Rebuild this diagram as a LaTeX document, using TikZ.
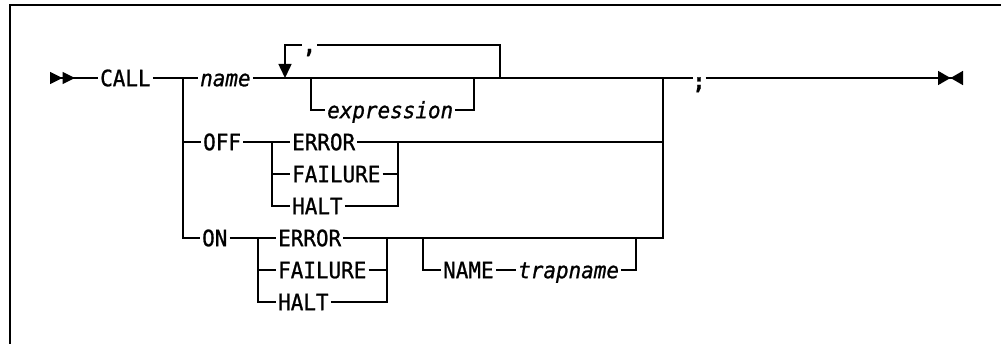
\documentclass[tikz,border=0pt]{standalone}
\usepackage{fontspec}
\setmonofont[FakeStretch=0.93,FakeBold=1]{DejaVu Sans Mono}
\usetikzlibrary{arrows.meta,positioning}
\tikzset{
    rail/.style={line width=1.5pt},
    kw/.style={inner xsep=2pt, inner ysep=0pt, anchor=west,
               text height=16.4pt, text depth=0pt,
               font=\fontsize{22.5}{26}\selectfont\ttfamily},
    var/.style={kw, font=\fontsize{22.5}{26}\selectfont\ttfamily\itshape},
    punct/.style={inner sep=0pt, minimum width=#1, text height=0pt, text depth=0pt,
                  font=\fontsize{22.5}{26}\selectfont\ttfamily\bfseries},
}

\begin{document}
\begin{tikzpicture}[x=1pt, y=-1pt]
    \useasboundingbox (0,0) rectangle (1001,344);
    % open frame
    \draw[line width=1.2pt] (10,344) -- (10,5) -- (1001,5);

    % main line
    \coordinate (start) at (50,78);
    \node[kw]  (call) at (98,78)  {CALL};
    \node[var] (name) at (198,78) {name};
    \node[punct=12pt] (semi) at (699,78) {\raisebox{-11pt}{;}};
    \coordinate (stop) at (963,78);
    \coordinate (br1) at (183,78);
    \coordinate (jR)  at (663,78);

    \draw[rail, {Triangle[reversed,length=12.5pt,width=12pt]Triangle[reversed,length=12.5pt,width=12pt]}-]
        (start) -- (call.west);
    \draw[rail] (call.east) -- (name.west);
    \draw[rail] (name.east) -- (semi.west);
    \draw[rail, -{Triangle[length=12.5pt,width=14pt]Triangle[reversed,length=12.5pt,width=14pt]}]
        (semi.east) -- (stop);

    % repeat loop with separator
    \coordinate (loopL) at (285,78);
    \coordinate (loopR) at (500,78);
    \node[punct=15pt] (comma) at (309.5,45) {\raisebox{-8pt}{,}};
    \draw[rail] (loopR) |- (comma.east);
    \draw[rail, -{Triangle[length=14pt,width=13pt]}] (comma.west) -| (loopL);

    % optional expression
    \coordinate (exL) at (311,78);
    \coordinate (exR) at (474,78);
    \node[var] (expr) at (325,110) {expression};
    \draw[rail] (exL) |- (expr.west);
    \draw[rail] (expr.east) -| (exR);

    % OFF / ON branches
    \node[kw] (off) at (201,142) {OFF};
    \node[kw] (on)  at (200,238) {ON};
    \draw[rail] (br1) |- (on.west);
    \draw[rail] (br1 |- off.west) -- (off.west);

    % OFF choices
    \node[kw] (offErr)  at (290,142) {ERROR};
    \node[kw] (offFail) at (290,174) {FAILURE};
    \node[kw] (offHalt) at (290,206) {HALT};
    \coordinate (offL) at (272,142);
    \coordinate (offR) at (398,142);
    \draw[rail] (off.east) -- (offErr.west);
    \draw[rail] (offL) |- (offFail.west);
    \draw[rail] (offL) |- (offHalt.west);
    \draw[rail] (offFail.east) -| (offR);
    \draw[rail] (offHalt.east) -| (offR);
    \draw[rail] (offErr.east) -| (jR);

    % ON choices
    \node[kw] (onErr)  at (276,238) {ERROR};
    \node[kw] (onFail) at (276,270) {FAILURE};
    \node[kw] (onHalt) at (276,302) {HALT};
    \coordinate (onL) at (258,238);
    \coordinate (onR) at (387,238);
    \draw[rail] (on.east) -- (onErr.west);
    \draw[rail] (onL) |- (onFail.west);
    \draw[rail] (onL) |- (onHalt.west);
    \draw[rail] (onFail.east) -| (onR);
    \draw[rail] (onHalt.east) -| (onR);
    \draw[rail] (onErr.east) -| (jR);

    % optional NAME trapname
    \node[kw]  (nmKw) at (441,270) {NAME};
    \node[var] (trap) at (516,270) {trapname};
    \coordinate (nmL) at (423,238);
    \coordinate (nmR) at (636,238);
    \draw[rail] (nmL) |- (nmKw.west);
    \draw[rail] (nmKw.east) -- (trap.west);
    \draw[rail] (trap.east) -| (nmR);
\end{tikzpicture}
\end{document}
